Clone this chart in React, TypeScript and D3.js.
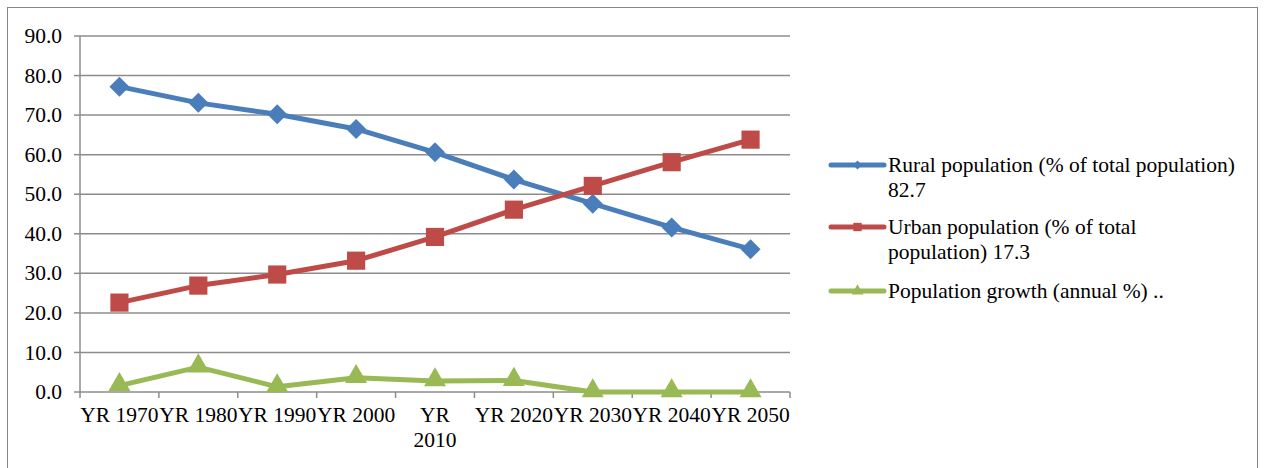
import React, { useEffect, useRef } from 'react';
import * as d3 from 'd3';

const categories = ['YR 1970', 'YR 1980', 'YR 1990', 'YR 2000', 'YR 2010', 'YR 2020', 'YR 2030', 'YR 2040', 'YR 2050'];
// how each tick label is broken into lines (Excel wrapped only 2010)
const tickLines = [['YR 1970'], ['YR 1980'], ['YR 1990'], ['YR 2000'], ['YR', '2010'], ['YR 2020'], ['YR 2030'], ['YR 2040'], ['YR 2050']];
const rural = [77.2, 73.1, 70.2, 66.5, 60.6, 53.7, 47.6, 41.6, 36.1];
const urban = [22.6, 26.9, 29.7, 33.2, 39.2, 46.1, 52.1, 58.1, 63.8];
const growth = [1.6, 6.3, 1.3, 3.6, 2.8, 2.9, 0, 0, 0];
const yTicks = [0, 10, 20, 30, 40, 50, 60, 70, 80, 90];
const legendLabels = [
  ['Rural population (% of total population)', '82.7'],
  ['Urban population (% of total', 'population) 17.3'],
  ['Population growth (annual %) ..'],
];

const W = 1264;
const H = 468;
const FONT = '"Liberation Serif", "Times New Roman", serif';
const FS = 21.5;

const App: React.FC = () => {
  const svgRef = useRef<SVGSVGElement>(null);

  useEffect(() => {
    if (!svgRef.current) return;
    const svg = d3.select(svgRef.current);
    svg.selectAll('*').remove();

    const left = 80, right = 790, top = 36, bottom = 392;

    const x = d3.scaleBand<string>().domain(categories).range([left, right]);
    const y = d3.scaleLinear().domain([0, 90]).range([bottom, top]);

    // chart frame
    svg.append('rect')
      .attr('x', 7.5).attr('y', 7.5)
      .attr('width', 1250).attr('height', 480)
      .attr('fill', 'white').attr('stroke', '#868686').attr('stroke-width', 1);

    // gridlines
    svg.append('g').selectAll('line').data(yTicks.slice(1)).join('line')
      .attr('x1', left).attr('x2', right)
      .attr('y1', d => y(d)).attr('y2', d => y(d))
      .attr('stroke', '#8c8c8c').attr('stroke-width', 1.5);

    // y axis
    const yAxis = svg.append('g');
    yAxis.append('line')
      .attr('x1', left).attr('x2', left).attr('y1', top).attr('y2', bottom)
      .attr('stroke', '#8c8c8c').attr('stroke-width', 1.5);
    yAxis.selectAll('line.tick').data(yTicks).join('line')
      .attr('class', 'tick')
      .attr('x1', left - 6).attr('x2', left)
      .attr('y1', d => y(d)).attr('y2', d => y(d))
      .attr('stroke', '#8c8c8c').attr('stroke-width', 1.5);
    yAxis.selectAll('text').data(yTicks).join('text')
      .attr('x', 62).attr('y', d => y(d))
      .attr('dy', '0.33em')
      .attr('text-anchor', 'end')
      .attr('font-family', FONT).attr('font-size', FS)
      .text(d => d3.format('.1f')(d));

    // x axis
    const xAxis = svg.append('g');
    xAxis.append('line')
      .attr('x1', left).attr('x2', right).attr('y1', bottom).attr('y2', bottom)
      .attr('stroke', '#8c8c8c').attr('stroke-width', 1.5);
    const edges = categories.map(c => x(c) as number).concat([right]);
    xAxis.selectAll('line.tick').data(edges).join('line')
      .attr('class', 'tick')
      .attr('x1', d => d).attr('x2', d => d)
      .attr('y1', bottom).attr('y2', bottom + 6)
      .attr('stroke', '#8c8c8c').attr('stroke-width', 1.5);
    categories.forEach((c, i) => {
      const cx = (x(c) as number) + x.bandwidth() / 2;
      const t = xAxis.append('text')
        .attr('text-anchor', 'middle')
        .attr('font-family', FONT).attr('font-size', FS);
      tickLines[i].forEach((ln, j) => {
        t.append('tspan').attr('x', cx).attr('y', 422 + j * 25).text(ln);
      });
    });

    const series = [
      { values: rural, color: '#4A7EBB', shape: 'diamond' },
      { values: urban, color: '#BE4B48', shape: 'square' },
      { values: growth, color: '#98B954', shape: 'triangle' },
    ];

    const symbolFor = (shape: string, size: number) => {
      if (shape === 'triangle') return d3.symbol().type(d3.symbolTriangle).size(size)();
      return d3.symbol().type(d3.symbolSquare).size(size)();
    };

    const line = d3.line<number>()
      .x((_, i) => (x(categories[i]) as number) + x.bandwidth() / 2)
      .y(d => y(d));

    series.forEach(s => {
      const g = svg.append('g');
      g.append('path')
        .datum(s.values)
        .attr('d', line)
        .attr('fill', 'none')
        .attr('stroke', s.color)
        .attr('stroke-width', 5)
        .attr('stroke-linejoin', 'round');
      const size = s.shape === 'diamond' ? 200 : s.shape === 'square' ? 330 : 210;
      g.selectAll('path.m').data(s.values).join('path')
        .attr('class', 'm')
        .attr('d', symbolFor(s.shape, size))
        .attr('transform', (d, i) => {
          const cx = (x(categories[i]) as number) + x.bandwidth() / 2;
          const rot = s.shape === 'diamond' ? ' rotate(45)' : '';
          const dyOff = s.shape === 'triangle' ? -1 : 0;
          return `translate(${cx},${y(d) + dyOff})${rot}`;
        })
        .attr('fill', s.color);
    });

    // legend
    const legendY = [165, 227, 291];
    series.forEach((s, i) => {
      const g = svg.append('g');
      g.append('line')
        .attr('x1', 831).attr('x2', 884)
        .attr('y1', legendY[i]).attr('y2', legendY[i])
        .attr('stroke', s.color).attr('stroke-width', 5)
        .attr('stroke-linecap', 'round');
      const size = s.shape === 'diamond' ? 40 : s.shape === 'square' ? 70 : 60;
      g.append('path')
        .attr('d', symbolFor(s.shape, size))
        .attr('transform', `translate(857.5,${legendY[i]})${s.shape === 'diamond' ? ' rotate(45)' : ''}`)
        .attr('fill', s.color);
      const t = g.append('text')
        .attr('font-family', FONT).attr('font-size', FS);
      legendLabels[i].forEach((ln, j) => {
        t.append('tspan').attr('x', 888).attr('y', legendY[i] + 7 + j * 25).text(ln);
      });
    });
  }, []);

  return (
    <svg
      ref={svgRef}
      width={W}
      height={H}
      style={{ position: 'absolute', left: 0, top: 0, background: 'white' }}
    />
  );
};

export default App;
